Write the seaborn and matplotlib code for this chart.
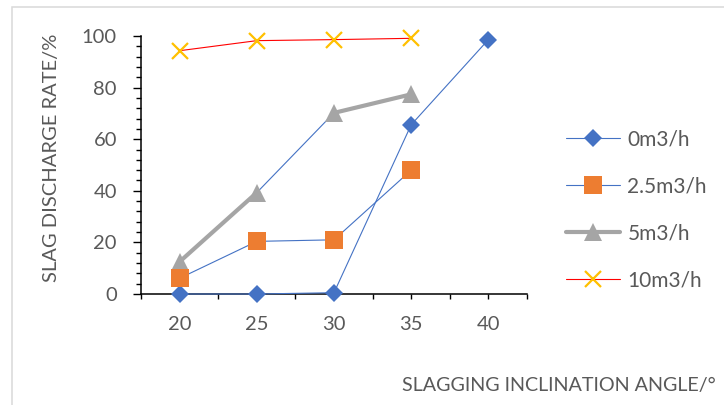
import numpy as np
import pandas as pd
import seaborn as sns
import matplotlib
matplotlib.use("Agg")
import matplotlib.pyplot as plt
from matplotlib.lines import Line2D
from matplotlib.patches import Rectangle
from matplotlib.ticker import MultipleLocator, FixedLocator

# ---- data ----
angles = [20, 25, 30, 35, 40]
series_labels = ["0m3/h", "2.5m3/h", "5m3/h", "10m3/h"]
rate_0 = [0.0, 0.0, 0.5, 65.6, 98.6]
rate_2_5 = [6.1, 20.4, 21.0, 48.0]
rate_5 = [12.5, 39.3, 70.2, 77.4]
rate_10 = [94.3, 98.2, 98.6, 99.1]
x_tick_values = [20, 25, 30, 35, 40]
x_tick_labels = ["20", "25", "30", "35", "40"]
y_tick_values = [0, 20, 40, 60, 80, 100]
x_title = "SLAGGING INCLINATION ANGLE/°"
y_title = "SLAG DISCHARGE RATE/%"

# ---- style ----
sns.set_theme(style="white")
plt.rcParams['font.family'] = ['Lato', 'DejaVu Sans']
TXT = "#595959"
BLUE = "#4472C4"
ORANGE = "#ED7D31"
GRAY = "#A5A5A5"
YELLOW = "#FFC000"
RED = "#FF0000"

W, H = 724, 405
fig = plt.figure(figsize=(W / 100, H / 100), dpi=100)
fig.patch.set_facecolor("white")
fig.patches.append(Rectangle((12 / W, -0.1), 1.2, 1 - 7 / H + 0.1, transform=fig.transFigure,
                             fill=False, edgecolor="#D9D9D9", lw=1.1, zorder=0))

ax = fig.add_axes([141 / W, 1 - 294 / H, (527 - 141) / W, (294 - 36) / H])
ax.set_facecolor("none")

thin = 0.8
common = dict(ax=ax, sort=False, clip_on=False)
# 0 m3/h
sns.lineplot(x=angles, y=rate_0, color=BLUE, lw=thin, marker="D", ms=8.7,
             mec=BLUE, mfc=BLUE, mew=0, zorder=3, **common)
# 2.5 m3/h (line drawn blue as in the original)
sns.lineplot(x=angles[:len(rate_2_5)], y=rate_2_5, color=BLUE, lw=thin, zorder=2, **common)
# 5 m3/h line, segment styles as in the original chart
seg_thick = [True, False, True]
for i, thick in enumerate(seg_thick):
    sns.lineplot(x=angles[i:i + 2], y=rate_5[i:i + 2],
                 color=GRAY if thick else BLUE, lw=3.0 if thick else thin,
                 zorder=2, **common)
sns.lineplot(x=angles[:len(rate_5)], y=rate_5, color=GRAY, lw=0, marker="^", ms=13,
             mec=GRAY, mfc=GRAY, mew=0, zorder=3, **common)
sns.lineplot(x=angles[:len(rate_2_5)], y=rate_2_5, color=ORANGE, lw=0, marker="s", ms=12.5,
             mec=ORANGE, mfc=ORANGE, mew=0, zorder=4, **common)
# 10 m3/h
sns.lineplot(x=angles[:len(rate_10)], y=rate_10, color=RED, lw=thin, zorder=2, **common)
sns.lineplot(x=angles[:len(rate_10)], y=rate_10, color=YELLOW, lw=0, marker="x", ms=12,
             mec=YELLOW, mew=1.6, zorder=3, **common)

ax.set_xlim(17.5, 42.5)
ax.set_ylim(0, 100)
ax.xaxis.set_major_locator(FixedLocator(x_tick_values))
ax.set_xticklabels(x_tick_labels)
ax.xaxis.set_minor_locator(MultipleLocator(5, offset=2.5))
ax.yaxis.set_major_locator(FixedLocator(y_tick_values))
ax.yaxis.set_minor_locator(MultipleLocator(4))
ax.tick_params(axis="x", which="both", direction="out", length=3.6, width=1.0, color="black",
               bottom=True, pad=12, labelsize=14.5, labelcolor=TXT)
ax.tick_params(axis="y", which="major", direction="out", length=5.8, width=1.0, color="black",
               left=True, pad=11.5, labelsize=14.5, labelcolor=TXT)
ax.tick_params(axis="y", which="minor", direction="out", length=3.6, width=1.0, color="black",
               left=True)
for s in ["top", "right"]:
    ax.spines[s].set_visible(False)
for s in ["left", "bottom"]:
    ax.spines[s].set_color("black")
    ax.spines[s].set_linewidth(1.1)
    ax.spines[s].set_zorder(2.5)
ax.set_xlabel("")
ax.set_ylabel("")
ax.grid(False)
if ax.get_legend():
    ax.get_legend().remove()

fig.text(402 / W, 1 - 385 / H, x_title, ha="left", va="center", fontsize=14.2, color=TXT)
fig.text(52 / W, 1 - 158 / H, y_title, ha="center", va="center", rotation=90, fontsize=14.5, color=TXT)

handles = [
    Line2D([], [], color=BLUE, lw=thin, marker="D", ms=8.7, mfc=BLUE, mec=BLUE, mew=0),
    Line2D([], [], color=BLUE, lw=thin, marker="s", ms=12.5, mfc=ORANGE, mec=ORANGE, mew=0),
    Line2D([], [], color=GRAY, lw=3.0, marker="^", ms=13, mfc=GRAY, mec=GRAY, mew=0),
    Line2D([], [], color=RED, lw=thin, marker="x", ms=12, mec=YELLOW, mew=1.6),
]
leg = fig.legend(handles, series_labels, loc="upper left", bbox_to_anchor=(566 / W, 1 - 129 / H),
                 frameon=False, fontsize=15, labelcolor=TXT, handlelength=2.6, handletextpad=0.35,
                 labelspacing=1.3, borderpad=0, borderaxespad=0)

fig.savefig("out.png", dpi=100, facecolor="white")
